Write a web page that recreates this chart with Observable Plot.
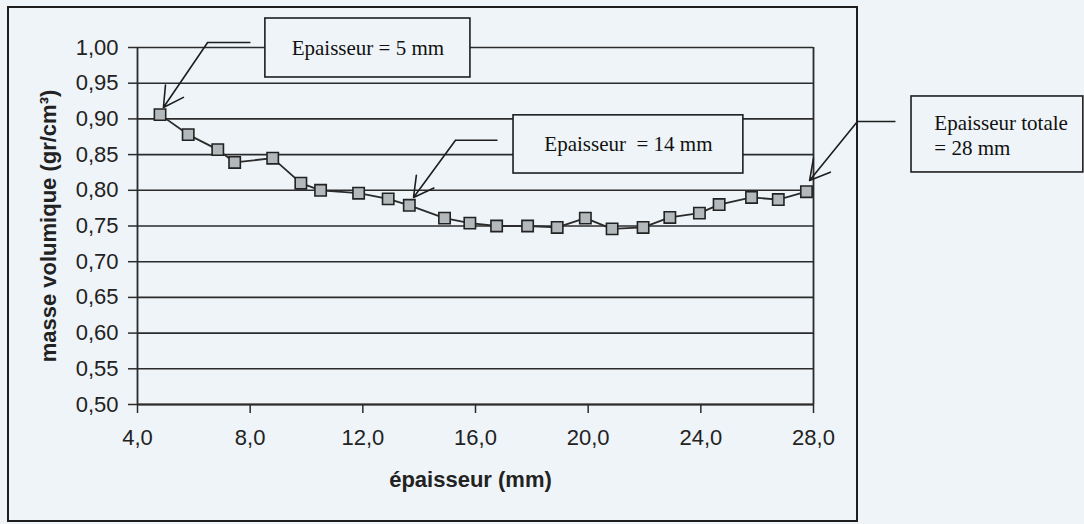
<!DOCTYPE html>
<html><head><meta charset="utf-8">
<script src="https://cdn.jsdelivr.net/npm/d3@7"></script>
<script src="https://cdn.jsdelivr.net/npm/@observablehq/plot@0.6"></script>
<style>
html,body{margin:0;padding:0;background:#eef4f8;}
#chart{width:1084px;height:524px;}
</style></head><body><div id="chart"></div>
<script>
// Data
const thickness = [4.8, 5.8, 6.85, 7.45, 8.8, 9.8, 10.5, 11.85, 12.9, 13.65, 14.9, 15.8, 16.75, 17.85, 18.9, 19.9, 20.85, 21.95, 22.9, 23.95, 24.65, 25.8, 26.75, 27.75];
const density = [0.906, 0.878, 0.857, 0.839, 0.845, 0.810, 0.800, 0.796, 0.788, 0.779, 0.761, 0.754, 0.750, 0.750, 0.748, 0.761, 0.746, 0.748, 0.762, 0.768, 0.780, 0.790, 0.787, 0.798];
const xTicks = [4, 8, 12, 16, 20, 24, 28];
const yTicks = [0.50, 0.55, 0.60, 0.65, 0.70, 0.75, 0.80, 0.85, 0.90, 0.95, 1.00];
const xLabel = "épaisseur (mm)";
const yLabel = "masse volumique (gr/cm³)";
const calloutTexts = ["Epaisseur = 5 mm", "Epaisseur  = 14 mm", "Epaisseur totale\n= 28 mm"];
// Callout anchors, in data units
const calloutBoxX1 = [8.54, 17.35, 31.48];
const calloutBoxX2 = [15.82, 25.51, 37.58];
const calloutBoxY1 = [0.958, 0.8235, 0.825];
const calloutBoxY2 = [1.0406, 0.905, 0.9314];
const leaderX1 = [6.49, 15.29, 29.56];
const leaderX2 = [8.01, 16.78, 30.91];
const leaderY = [1.007, 0.870, 0.8964];
const arrowTipX = [4.92, 13.80, 27.86];
const arrowTipY = [0.916, 0.790, 0.8137];
const textX = [12.18, 21.43, 32.29];
const textY = [0.9993, 0.864, 0.878];
const textAnchor = ["middle", "middle", "start"];

const points = thickness.map((x, i) => ({x, y: density[i]}));
const callouts = calloutTexts.map((t, i) => ({
  t, bx1: calloutBoxX1[i], bx2: calloutBoxX2[i], by1: calloutBoxY1[i], by2: calloutBoxY2[i],
  lx1: leaderX1[i], lx2: leaderX2[i], ly: leaderY[i],
  ax: arrowTipX[i], ay: arrowTipY[i], tx: textX[i], ty: textY[i], anchor: textAnchor[i]
}));

const bg = "#eef4f8";
const ink = "#2b2b2b";
const comma = (d, n) => d.toFixed(n).replace(".", ",");
const serif = "'Liberation Serif', 'Times New Roman', serif";

const plot = Plot.plot({
  width: 1084, height: 524,
  marginLeft: 137, marginRight: 271, marginTop: 47, marginBottom: 120,
  style: {background: bg, fontFamily: "'Liberation Sans', Arial, sans-serif", fontSize: "22px", color: "#222", overflow: "visible"},
  x: {domain: [4, 28]},
  y: {domain: [0.5, 1.0]},
  marks: [
    Plot.ruleY(yTicks, {stroke: ink, strokeWidth: 1.6}),
    Plot.ruleX([4, 28], {y1: 0.5, y2: 1.0, stroke: ink, strokeWidth: 1.8}),
    Plot.ruleY([0.5], {stroke: ink, strokeWidth: 1.8}),
    Plot.axisY({ticks: yTicks, tickSize: 9, tickPadding: 10, tickFormat: d => comma(d, 2), label: null, stroke: ink, strokeWidth: 1.5}),
    Plot.axisX({ticks: xTicks, tickSize: 9, tickPadding: 16, tickFormat: d => comma(d, 1), label: null, stroke: ink, strokeWidth: 1.5}),
    Plot.text([yLabel], {frameAnchor: "left", textAnchor: "middle", lineAnchor: "middle", rotate: -90, dx: -89, fontWeight: "bold", fontSize: 22, fill: "#222", text: d => d}),
    Plot.text([xLabel], {frameAnchor: "bottom", textAnchor: "middle", lineAnchor: "middle", dx: -5, dy: 75, fontWeight: "bold", fontSize: 22, fill: "#222", text: d => d}),
    Plot.line(points, {x: "x", y: "y", stroke: ink, strokeWidth: 1.8}),
    Plot.dot(points, {x: "x", y: "y", symbol: "square", r: 6.4, fill: "#b3b8bb", stroke: "#222", strokeWidth: 1.6}),
    Plot.rect(callouts, {x1: "bx1", x2: "bx2", y1: "by1", y2: "by2", fill: bg, stroke: "#1e1e1e", strokeWidth: 1.6}),
    Plot.link(callouts, {x1: "lx1", x2: "lx2", y1: "ly", y2: "ly", stroke: "#1e1e1e", strokeWidth: 1.6}),
    Plot.arrow(callouts, {x1: "lx1", y1: "ly", x2: "ax", y2: "ay", stroke: "#1e1e1e", strokeWidth: 1.6, headLength: 21, headAngle: 58}),
    Plot.text(callouts.filter(d => d.anchor === "middle"), {x: "tx", y: "ty", text: "t", textAnchor: "middle", lineAnchor: "middle", fontFamily: serif, fontSize: 21, fill: "#111"}),
    Plot.text(callouts.filter(d => d.anchor === "start"), {x: "tx", y: "ty", text: "t", textAnchor: "start", lineAnchor: "middle", lineHeight: 1.2, fontFamily: serif, fontSize: 21, fill: "#111"})
  ]
});
document.getElementById("chart").appendChild(plot);
const svg = d3.select(plot);
svg.insert("rect", ":first-child").attr("x", 8).attr("y", 7).attr("width", 849).attr("height", 514)
  .attr("fill", "none").attr("stroke", "#1e1e1e").attr("stroke-width", 2);
</script></body></html>
